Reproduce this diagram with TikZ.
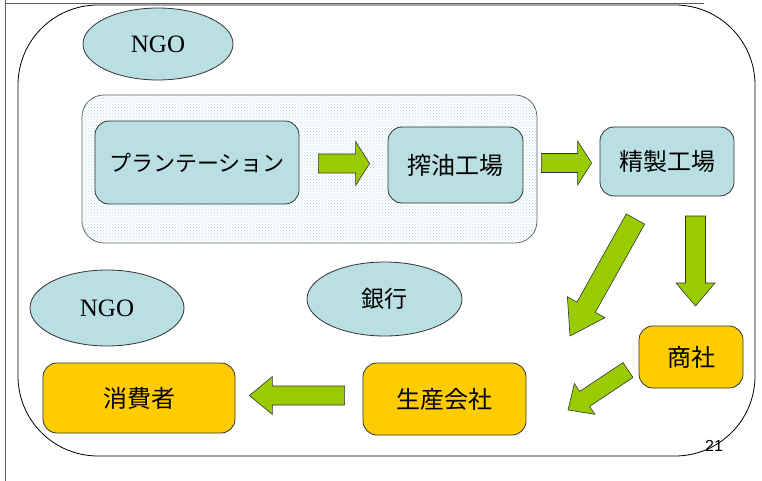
\documentclass[tikz,border=0pt]{standalone}
\usepackage{fontspec}
\setmainfont{Liberation Serif}
\newfontfamily\jpfont{Noto Sans CJK JP}
\newfontfamily\numfont{Liberation Sans}
\usetikzlibrary{calc,patterns,shapes.geometric}
\definecolor{lblue}{HTML}{B9DFE2}
\definecolor{orng}{HTML}{FFCC00}
\definecolor{grn}{HTML}{99CC00}
\definecolor{edgec}{HTML}{333333}
\definecolor{dotc}{HTML}{B4DAE0}
\tikzset{
 box/.style={draw=edgec, line width=0.8pt, rounded corners=14pt, inner sep=0pt,
   font=\jpfont\fontsize{24}{28}\selectfont},
 bluebox/.style={box, fill=lblue},
 orbox/.style={box, fill=orng},
 oval/.style={ellipse, draw=edgec, line width=0.8pt, fill=lblue, inner sep=0pt},
 barrow/.style={draw=edgec, line width=0.6pt, fill=grn, line join=miter},
}
% block arrow: tail, tip, half shaft width, half head width, head length
\newcommand\blockarrow[5]{%
 \draw[barrow] let \p1=(#1),\p2=(#2),
   \n1={atan2(\y2-\y1,\x2-\x1)},\n2={veclen(\x2-\x1,\y2-\y1)} in
   ([shift={(\p1)},rotate=\n1]0pt,{#3pt})
   -- ([shift={(\p1)},rotate=\n1]{\n2-#5pt},{#3pt})
   -- ([shift={(\p1)},rotate=\n1]{\n2-#5pt},{#4pt})
   -- ([shift={(\p1)},rotate=\n1]{\n2},0pt)
   -- ([shift={(\p1)},rotate=\n1]{\n2-#5pt},{-#4pt})
   -- ([shift={(\p1)},rotate=\n1]{\n2-#5pt},{-#3pt})
   -- ([shift={(\p1)},rotate=\n1]0pt,{-#3pt}) -- cycle;}
\begin{document}
\begin{tikzpicture}[x=1pt,y=-1pt]
\useasboundingbox (0,0) rectangle (762,481);
% page edges
\draw[edgec!80, line width=1pt] (5,0) -- (5,481);
\draw[edgec!80, line width=1pt] (5,4) -- (704,4);
% outer frame
\draw[black, line width=0.8pt, rounded corners=80pt] (18,5) rectangle (755,456);
% group
\path[fill=white, draw=edgec!80, line width=0.8pt, rounded corners=22pt,
  postaction={pattern=crosshatch dots, pattern color=dotc}] (82,95) rectangle (537,243);
% nodes
\node[oval, minimum width=150pt, minimum height=72pt, font=\fontsize{25}{28}\selectfont] (ngo1) at (158,44) {NGO};
\node[oval, minimum width=154pt, minimum height=76pt, font=\fontsize{25}{28}\selectfont] (ngo2) at (107,308) {NGO};
\node[oval, minimum width=155pt, minimum height=74pt, font=\jpfont\fontsize{23}{26}\selectfont] (bank) at (384.5,299) {銀行};
\node[bluebox, minimum width=204pt, minimum height=83pt, font=\jpfont\fontsize{22}{26}\selectfont] (plant) at (197,162.5) {プランテーション};
\node[bluebox, minimum width=135pt, minimum height=76pt] (press) at (455.5,165) {搾油工場};
\node[bluebox, minimum width=134pt, minimum height=69pt] (refine) at (667,161.5) {精製工場};
\node[orbox, minimum width=104pt, minimum height=62pt] (trade) at (691,357) {商社};
\node[orbox, minimum width=163pt, minimum height=72pt] (prod) at (444.5,399) {生産会社};
\node[orbox, minimum width=192pt, minimum height=70pt] (cons) at (139,398) {消費者};
% arrow end points
\coordinate (a1s) at ($(plant.east)+(19,1)$);
\coordinate (a1e) at ($(press.west)+(-18,-1.5)$);
\coordinate (a2s) at ($(press.east)+(18,-2)$);
\coordinate (a2e) at ($(refine.west)+(-8,1.5)$);
\coordinate (a3s) at (635.5,219);
\coordinate (a3e) at (570,336);
\coordinate (a4s) at (695.5,216);
\coordinate (a4e) at (695.5,306);
\coordinate (a5s) at (628,370);
\coordinate (a5e) at (568,410);
\coordinate (a6s) at ($(prod.west)+(-18,-3.5)$);
\coordinate (a6e) at ($(cons.east)+(14,-2.5)$);
\blockarrow{a1s}{a1e}{9.5}{22}{14}
\blockarrow{a2s}{a2e}{9.5}{22}{14}
\blockarrow{a3s}{a3e}{10.5}{21.5}{33}
\blockarrow{a4s}{a4e}{10}{19.5}{23}
\blockarrow{a5s}{a5e}{9}{18.5}{20}
\blockarrow{a6s}{a6e}{9.5}{19}{23}
% page number
\node[font=\numfont\fontsize{16}{18}\selectfont, inner sep=0pt] (pnum) at (714,446) {21};
\end{tikzpicture}
\end{document}
